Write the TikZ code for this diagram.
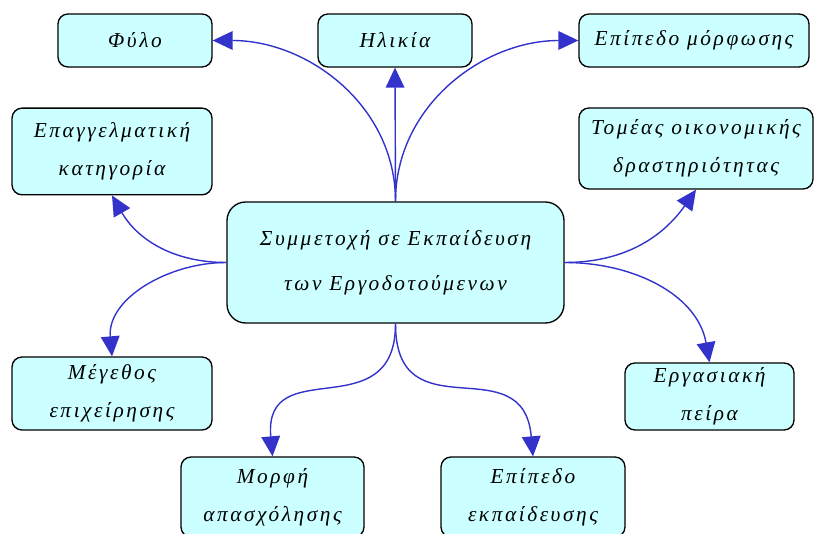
\documentclass[tikz,border=0pt]{standalone}
\usepackage{fontspec}
\setmainfont{Liberation Serif}
\newfontfamily\grfont[LetterSpace=12]{Liberation Serif}
\usetikzlibrary{arrows.meta}
\definecolor{boxcyan}{HTML}{CCFFFF}
\definecolor{linkblue}{HTML}{3333CC}
\tikzset{
  box/.style={draw, line width=1pt, rounded corners=7.5pt, fill=boxcyan,
    font=\grfont\itshape\fontsize{16}{28.5}\selectfont, align=center, inner sep=0pt},
  hub/.style={box, rounded corners=14pt, font=\grfont\itshape\fontsize{16}{33.75}\selectfont},
  link/.style={draw=linkblue, line width=1.05pt, -{Triangle[length=15pt,width=14pt]}}
}
\begin{document}
\begin{tikzpicture}[x=0.75pt, y=0.75pt]
            \useasboundingbox (0,0) rectangle (814,-534);

            % Define nodes
            \node[hub, minimum width=252.75pt, minimum height=90.75pt] (center) at (395.5,-262.5) {Συμμετοχή σε Εκπαίδευση\\των Εργοδοτούμενων};
            \node[box, minimum width=115.5pt, minimum height=39.75pt] (fylo) at (135,-40.5) {Φύλο};
            \node[box, minimum width=115.5pt, minimum height=39.75pt] (ilikia) at (395,-40.5) {Ηλικία};
            \node[box, minimum width=172.5pt, minimum height=39.75pt] (morfosi) at (694,-40.5) {Επίπεδο μόρφωσης};
            \node[box, minimum width=150pt, minimum height=65pt] (katigoria) at (112,-151.5) {Επαγγελματική\\κατηγορία};
            \node[box, minimum width=175.5pt, minimum height=60.75pt] (tomeas) at (696,-148.5) {Τομέας οικονομικής\\δραστηριότητας};
            \node[box, minimum width=150pt, minimum height=54.75pt] (megethos) at (112,-393.5) {Μέγεθος\\επιχείρησης};
            \node[box, minimum width=126.75pt, minimum height=50.25pt] (peira) at (709.5,-396.5) {Εργασιακή\\πείρα};
            \node[box, minimum width=137.25pt, minimum height=60pt] (morfi) at (272.5,-497) {Μορφή\\απασχόλησης};
            \node[box, minimum width=138pt, minimum height=60pt] (ekpaideusi) at (533,-497) {Επίπεδο\\εκπαίδευσης};

            % Draw edges
            \draw[link] (center.north) to[out=90, in=0] (fylo.east);
            \draw[link] (center.north) -- (ilikia.south);
            \draw[link] (center.north) to[out=90, in=180] (morfosi.west);
            \draw[link] (center.west) to[out=180, in=-60] (katigoria.south);
            \draw[link] (center.west) to[out=180, in=95] (megethos.north);
            \draw[link] (center.east) to[out=0, in=-125] (tomeas.south);
            \draw[link] (center.east) to[out=0, in=100] (peira.north);
            \draw[link] (center.south) to[out=-90, in=95, looseness=1.5] (morfi.north);
            \draw[link] (center.south) to[out=-90, in=95, looseness=1.5] (ekpaideusi.north);

        \end{tikzpicture}
\end{document}
